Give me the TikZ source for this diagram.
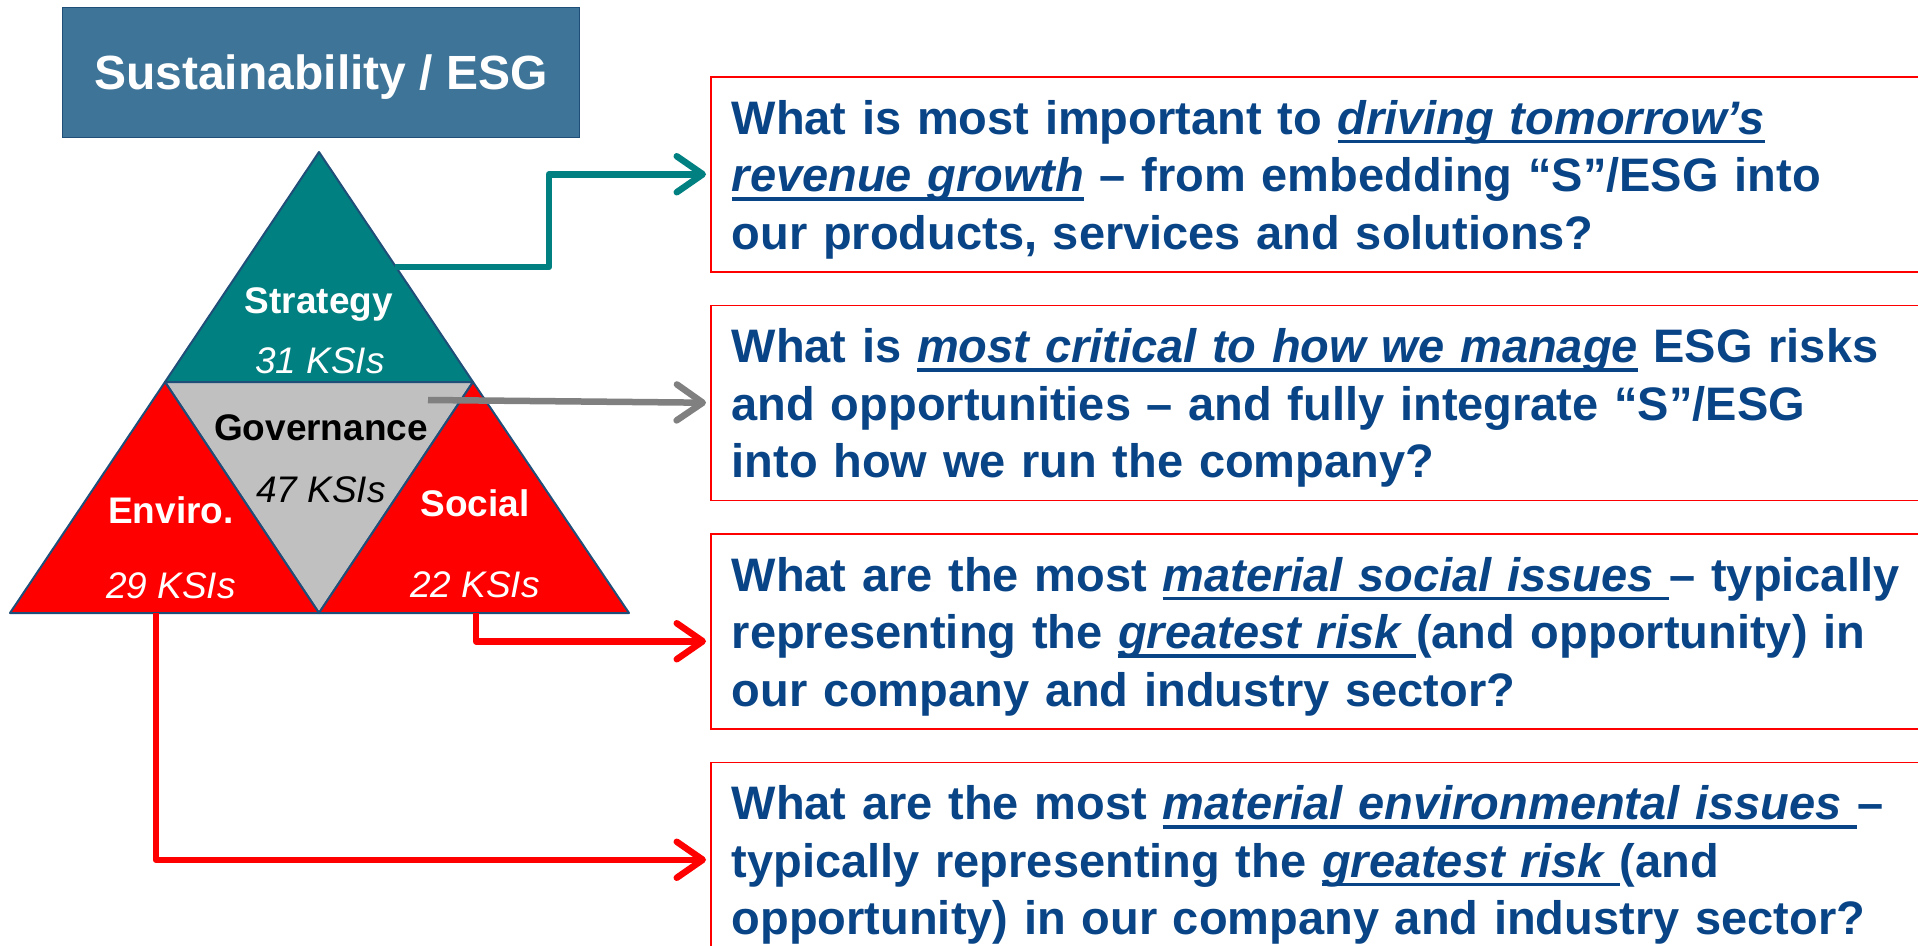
\documentclass[tikz,border=0pt]{standalone}
\usepackage{fontspec}
\setmainfont{Liberation Sans}
\usetikzlibrary{positioning,arrows.meta}
\definecolor{esgblue}{RGB}{62,116,152}
\definecolor{edgeblue}{RGB}{31,78,121}
\definecolor{qtext}{RGB}{8,68,134}
\definecolor{stratteal}{RGB}{0,128,128}
\definecolor{govgray}{RGB}{192,192,192}
\newcommand{\keyq}[1]{\leavevmode\setbox0\hbox{\itshape #1}\rlap{\rule[-9pt]{\wd0}{3.5pt}}\box0\relax}
\tikzset{
  tri/.style={draw=edgeblue, line width=2pt, line join=round},
  lbl/.style={anchor=base, inner sep=0pt, text=white, font=\fontsize{37}{44}\selectfont\bfseries},
  ksi/.style={anchor=base, inner sep=0pt, text=white, font=\fontsize{37}{44}\selectfont\itshape},
  qbox/.style={draw=red, line width=1.5pt, anchor=north west, text width=1200pt,
    minimum height=195pt, inner xsep=21pt, inner ysep=0pt, align=left,
    text=qtext, font=\fontsize{47}{57.5}\selectfont\bfseries,
    execute at begin node=\rule{0pt}{45pt}},
  link/.style={line width=6.5pt, line join=round, -{Straight Barb[length=26pt,width=36pt,round]}, shorten >=4pt}
}
\begin{document}
\begin{tikzpicture}[x=1pt, y=-1pt]
    \useasboundingbox (0,0) rectangle (1918,945);

    \node[draw=edgeblue, line width=1.5pt, fill=esgblue, minimum width=517pt, minimum height=130pt,
      text depth=0pt, text=white, font=\fontsize{48}{57}\selectfont\bfseries] (title) at (321,72.5) {Sustainability / ESG};

    \coordinate (apex) at (319,152);
    \coordinate (lmid) at (165,382);
    \coordinate (rmid) at (473,382);
    \coordinate (bl) at (10,613);
    \coordinate (bm) at (319,613);
    \coordinate (br) at (629,613);

    \draw[tri, fill=stratteal] (apex) -- (lmid) -- (rmid) -- cycle;
    \draw[tri, fill=govgray] (lmid) -- (rmid) -- (bm) -- cycle;
    \draw[tri, fill=red] (lmid) -- (bm) -- (bl) -- cycle;
    \draw[tri, fill=red] (rmid) -- (br) -- (bm) -- cycle;

    \node[lbl] (strat) at (319,313) {Strategy};
    \node[ksi] (strat-n) at (320,373) {31 KSIs};
    \node[lbl, text=black] (gov) at (321,440) {Governance};
    \node[ksi, text=black] (gov-n) at (321,502) {47 KSIs};
    \node[lbl] (env) at (171,523) {Enviro.};
    \node[ksi] (env-n) at (171,598) {29 KSIs};
    \node[lbl] (soc) at (475,516) {Social};
    \node[ksi] (soc-n) at (475,597) {22 KSIs};

    \node[qbox] (q1) at (710,76) {What is most important to \keyq{driving tomorrow’s}\\
      \keyq{revenue growth} – from embedding “S”/ESG into\\
      our products, services and solutions?};
    \node[qbox, below=32pt of q1] (q2) {What is \keyq{most critical to how we manage} ESG risks\\
      and opportunities – and fully integrate “S”/ESG\\
      into how we run the company?};
    \node[qbox, below=32pt of q2] (q3) {What are the most \keyq{material social issues }– typically\\
      representing the \keyq{greatest risk }(and opportunity) in\\
      our company and industry sector?};
    \node[qbox, below=32pt of q3] (q4) {What are the most \keyq{material environmental issues }–\\
      typically representing the \keyq{greatest risk }(and\\
      opportunity) in our company and industry sector?};

    \coordinate (strat-out) at (395,267);
    \coordinate (gov-out) at (428,400);
    \coordinate (soc-out) at (476,613);
    \coordinate (env-out) at (156,613);

    \draw[link, stratteal] (strat-out) -- ++(154,0) |- (q1.west);
    \draw[link, gray] (gov-out) -- (q2.west);
    \draw[link, red] (soc-out) |- ([yshift=-10pt]q3.west);
    \draw[link, red] (env-out) |- (q4.west);
\end{tikzpicture}
\end{document}
